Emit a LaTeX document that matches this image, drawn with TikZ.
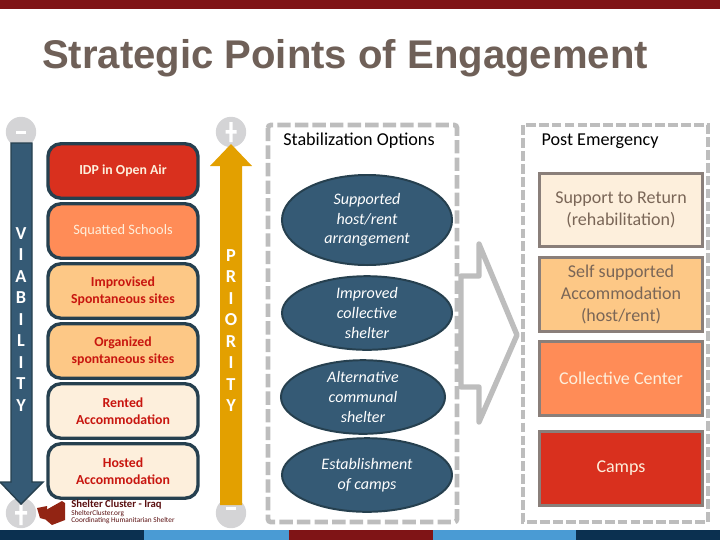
\documentclass[tikz,border=0pt]{standalone}
\usepackage{fontspec}
\setmainfont{Carlito}
\newfontfamily\titlefont{Liberation Sans}
\usetikzlibrary{shapes.geometric}
\definecolor{barred}{HTML}{7F1416}
\definecolor{barnavy}{HTML}{0B3050}
\definecolor{barblue}{HTML}{4A9BD4}
\definecolor{slate}{HTML}{355A75}
\definecolor{slatedark}{HTML}{26404F}
\definecolor{gold}{HTML}{E3A000}
\definecolor{softgray}{HTML}{BDBDBD}
\definecolor{capgray}{HTML}{D4D4D6}
\definecolor{redfill}{HTML}{D9301E}
\definecolor{orangefill}{HTML}{FF8C57}
\definecolor{peachfill}{HTML}{FDC886}
\definecolor{creamfill}{HTML}{FDEFDC}
\definecolor{boxline}{HTML}{8A7F7A}
\definecolor{boxtext}{HTML}{7A6657}
\definecolor{redtext}{HTML}{C8160F}
\definecolor{titlebrown}{HTML}{6F6058}
\begin{document}
\begin{tikzpicture}[x=0.025cm,y=-0.025cm,font=\fontsize{10.2}{12.2}\selectfont,
 capdisc/.style={circle,fill=capgray,minimum size=7.6mm,inner sep=0},
 stage/.style={draw=slatedark,line width=2.4pt,rounded corners=3.2mm,minimum width=37.5mm,minimum height=13.6mm,align=center},
 stagebold/.style={stage,font=\fontsize{9.8}{12.2}\selectfont\bfseries},
 opt/.style={ellipse,draw=slatedark,fill=slate,line width=1.4pt,inner sep=0,text=white,align=center,
  font=\fontsize{11.4}{13.9}\selectfont\itshape},
 post/.style={draw=boxline,line width=2.2pt,minimum width=40.7mm,minimum height=18.3mm,align=center,
  text=boxtext,font=\fontsize{12.8}{15.7}\selectfont},
 word/.style={align=center,text=white,font=\fontsize{13}{15.3}\selectfont\bfseries},
 head/.style={font=\fontsize{12.9}{14}\selectfont}]
\useasboundingbox (0,0) rectangle (720,540);
% bars
\fill[barred] (0,0) rectangle (720,9);
\fill[barnavy] (0,530) rectangle (144,540);
\fill[barblue] (144,530) rectangle (289,540);
\fill[barred] (289,530) rectangle (433,540);
\fill[barblue] (433,530) rectangle (576,540);
\fill[barnavy] (576,530) rectangle (720,540);
\node[text=titlebrown,font=\titlefont\fontsize{28.5}{30}\selectfont\bfseries] (title) at (345,58.5) {Strategic Points of Engagement};
% caps
\node[capdisc] (capa) at (21,132) {};
\node[capdisc] (capb) at (231,132) {};
\node[capdisc] (capc) at (21,513) {};
\node[capdisc] (capd) at (231,513) {};
% arrows
\fill[slate,draw=slatedark,line width=1pt] (11,143) -- (32,143) -- (32,482) -- (43,482) -- (21,504) -- (0,482) -- (11,482) -- cycle;
\fill[gold] (220,166) -- (210,166) -- (231,144) -- (252,166) -- (242,166) -- (242,505) -- (220,505) -- cycle;
\fill[white] (16,130.5) rectangle (26,133.5);
\fill[white] (226,507) rectangle (236,510);
\fill[white] (225.5,130) rectangle (236.5,133.5) (229.3,122) rectangle (232.7,142);
\fill[white] (15,511) rectangle (27,514.5) (19.3,505) rectangle (22.7,525);
\node[word] (viab) at (21,319.5) {V\\I\\A\\B\\I\\L\\I\\T\\Y};
\node[word] (prio) at (231,330.5) {P\\R\\I\\O\\R\\I\\T\\Y};
% stages
\node[stagebold,fill=redfill,text=creamfill] (s1) at (123,171) {IDP in Open Air};
\node[stage,fill=orangefill,text=creamfill] (s2) at (123,231) {Squatted Schools};
\node[stagebold,fill=peachfill,text=redtext] (s3) at (123,291) {Improvised\\Spontaneous sites};
\node[stagebold,fill=peachfill,text=redtext] (s4) at (123,351) {Organized\\spontaneous sites};
\node[stagebold,fill=creamfill,text=redtext] (s5) at (123,411) {Rented\\Accommodation};
\node[stagebold,fill=creamfill,text=redtext] (s6) at (123,471) {Hosted\\Accommodation};
% logo
\fill[barred!85!orange] (46,510) -- (62,501) -- (65,503) -- (65,520) -- (52,525) -- (46,520) -- cycle;
\fill[barred!85!orange] (37,508) -- (47,506) -- (47,520) -- (40,518) -- cycle;
\node[anchor=west,inner sep=0,text=barred!70!black,font=\fontsize{7.6}{8}\selectfont\bfseries] (logoa) at (71,505) {Shelter Cluster - Iraq};
\node[anchor=west,inner sep=0,text=barred!70!black,font=\fontsize{5.2}{6}\selectfont] (logob) at (71,514) {ShelterCluster.org};
\node[anchor=west,inner sep=0,text=barred!70!black,font=\fontsize{5.2}{6}\selectfont] (logoc) at (71,521) {Coordinating Humanitarian Shelter};
% options
\draw[softgray,line width=3.4pt,dash pattern=on 9.5pt off 3pt,rounded corners=2pt] (268,125) rectangle (457,522);
\draw[softgray,line width=2.4pt,dash pattern=on 7pt off 2.2pt] (523,125) rectangle (708,522);
\node[head] (optlabel) at (359,141) {Stabilization Options};
\node[head] (postlabel) at (600,141) {Post Emergency};
\node[opt,minimum width=42.5mm,minimum height=22.5mm] (o1) at (367,220) {Supported\\host/rent\\arrangement};
\node[opt,minimum width=42.5mm,minimum height=18.4mm] (o2) at (367,313) {Improved\\collective\\shelter};
\node[opt,minimum width=41mm,minimum height=18.4mm] (o3) at (363,397) {Alternative\\communal\\shelter};
\node[opt,minimum width=42.5mm,minimum height=18.4mm] (o4) at (367,475) {Establishment\\of camps};
% big arrow
\draw[softgray,line width=3.8pt,line join=round] (461,276) -- (479,276) -- (479,244) -- (517,335) -- (479,422) -- (479,387) -- (461,387) -- cycle;
% post
\node[post,fill=creamfill] (p1) at (621,210) {Support to Return\\(rehabilitation)};
\node[post,fill=peachfill] (p2) at (621,294.5) {Self supported\\Accommodation\\(host/rent)};
\node[post,fill=orangefill,text=creamfill] (p3) at (621,378.5) {Collective Center};
\node[post,fill=redfill,text=creamfill] (p4) at (621,468.5) {Camps};
\end{tikzpicture}
\end{document}
